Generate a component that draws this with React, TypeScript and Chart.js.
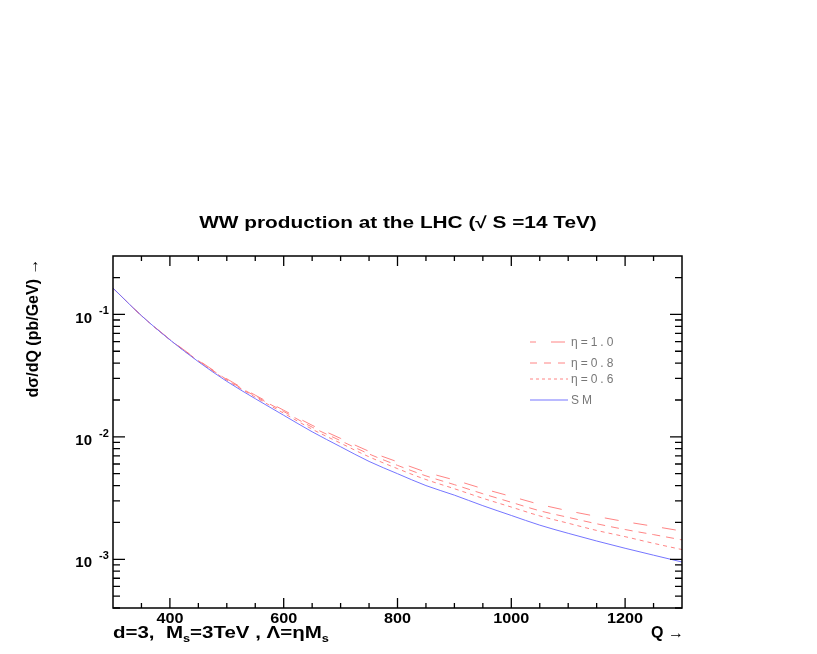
import React, { useEffect, useRef } from "react";
import { Chart, registerables } from "chart.js";

Chart.register(...registerables);

const Q = [300, 350, 400, 450, 500, 550, 600, 650, 700, 750, 800, 850, 900, 950, 1000, 1050, 1100, 1150, 1200, 1250, 1300];
const SM = [0.164, 0.0977, 0.062, 0.0411, 0.0284, 0.0205, 0.015, 0.011, 0.0083, 0.0063, 0.005, 0.004, 0.00334, 0.00274, 0.00228, 0.0019, 0.00163, 0.00141, 0.00123, 0.00108, 0.00095];
const ETA10 = [0.164, 0.0977, 0.0626, 0.0423, 0.0298, 0.0219, 0.0165, 0.01243, 0.00971, 0.00762, 0.00625, 0.00516, 0.00444, 0.00378, 0.00326, 0.00281, 0.00249, 0.00224, 0.00203, 0.00186, 0.0017];
const ETA08 = [0.164, 0.0977, 0.0623, 0.0419, 0.0294, 0.0215, 0.0161, 0.012, 0.0093, 0.00725, 0.00585, 0.0048, 0.00407, 0.00343, 0.00292, 0.00249, 0.0022, 0.00195, 0.00175, 0.00159, 0.00144];
const ETA06 = [0.164, 0.0977, 0.062, 0.0415, 0.029, 0.0211, 0.0156, 0.01155, 0.00888, 0.00687, 0.0055, 0.00448, 0.00377, 0.00315, 0.00267, 0.00226, 0.00197, 0.00172, 0.00153, 0.00135, 0.0012];
const X_LABELS = [400, 600, 800, 1000, 1200];
const Y_DECADES = [-1, -2, -3];
const LEGEND = ["η=1.0", "η=0.8", "η=0.6", "SM"];
const TITLE = "WW production at the LHC (√ S =14 TeV)";

const RED = "rgba(255,110,110,0.85)";
const BLUE = "rgba(110,110,255,0.95)";

const pts = (ys: number[]) => Q.map((x, i) => ({ x, y: ys[i] }));

const decor = {
  id: "decor",
  afterDraw(chart: any) {
    const ctx: CanvasRenderingContext2D = chart.ctx;
    const { left, right, top, bottom } = chart.chartArea;
    const xs = chart.scales.x;
    const ys = chart.scales.y;
    ctx.save();
    // frame
    ctx.strokeStyle = "#000";
    ctx.lineWidth = 1.5;
    ctx.strokeRect(left, top, right - left, bottom - top);
    ctx.lineWidth = 1.3;
    // x ticks
    for (let v = 350; v < 1300; v += 50) {
      const px = xs.getPixelForValue(v);
      const len = v % 200 === 0 ? 10 : 5;
      ctx.beginPath();
      ctx.moveTo(px, bottom);
      ctx.lineTo(px, bottom - len);
      ctx.moveTo(px, top);
      ctx.lineTo(px, top + len);
      ctx.stroke();
    }
    // y ticks
    for (let e = -4; e <= -1; e++) {
      for (let m = 1; m <= 9; m++) {
        const v = m * Math.pow(10, e);
        if (v < ys.min || v > ys.max) continue;
        const py = ys.getPixelForValue(v);
        const len = m === 1 ? 12 : 7;
        ctx.beginPath();
        ctx.moveTo(left, py);
        ctx.lineTo(left + len, py);
        ctx.moveTo(right, py);
        ctx.lineTo(right - len, py);
        ctx.stroke();
      }
    }
    // x labels
    ctx.fillStyle = "#000";
    ctx.font = "bold 15px 'Liberation Sans', Arial, sans-serif";
    ctx.textAlign = "center";
    ctx.textBaseline = "middle";
    X_LABELS.forEach((v) => {
      ctx.save();
      ctx.translate(xs.getPixelForValue(v), bottom + 11);
      ctx.scale(1.08, 1);
      ctx.fillText(String(v), 0, 0);
      ctx.restore();
    });
    // y labels
    Y_DECADES.forEach((e) => {
      const py = ys.getPixelForValue(Math.pow(10, e));
      ctx.font = "bold 15px 'Liberation Sans', Arial, sans-serif";
      ctx.textAlign = "right";
      ctx.textBaseline = "middle";
      ctx.fillText("10", 92, py + 4);
      ctx.font = "bold 11px 'Liberation Sans', Arial, sans-serif";
      ctx.textAlign = "left";
      ctx.fillText(String(e), 99, py - 3);
    });
    // title
    ctx.save();
    ctx.translate(398, 224);
    ctx.scale(1.3, 1);
    ctx.font = "bold 16px 'Liberation Sans', Arial, sans-serif";
    ctx.textAlign = "center";
    ctx.textBaseline = "middle";
    ctx.fillText(TITLE, 0, 0);
    ctx.restore();
    // bottom-left annotation
    ctx.save();
    ctx.translate(left, 638);
    ctx.scale(1.28, 1);
    ctx.textAlign = "left";
    ctx.textBaseline = "alphabetic";
    let x = 0;
    const big = "bold 16px 'Liberation Sans', Arial, sans-serif";
    const small = "bold 10px 'Liberation Sans', Arial, sans-serif";
    const parts: [string, string, number][] = [
      ["d=3,  M", big, 0],
      ["s", small, 4],
      ["=3TeV , Λ=ηM", big, 0],
      ["s", small, 4],
    ];
    parts.forEach(([t, f, dy]) => {
      ctx.font = f;
      ctx.fillText(t, x, dy);
      x += ctx.measureText(t).width;
    });
    ctx.restore();
    ctx.font = "bold 16px 'Liberation Sans', Arial, sans-serif";
    ctx.textAlign = "right";
    ctx.textBaseline = "alphabetic";
    ctx.fillText("Q →", right + 2, 638);
    // y title
    ctx.save();
    ctx.translate(34, 328);
    ctx.rotate(-Math.PI / 2);
    ctx.font = "bold 16px 'Liberation Sans Narrow', 'Liberation Sans', Arial, sans-serif";
    ctx.textAlign = "center";
    ctx.textBaseline = "middle";
    ctx.fillText("dσ/dQ (pb/GeV) →", 0, 0);
    ctx.restore();
    // legend
    const styles: [string, number[], number][] = [
      [RED, [14, 15], 8],
      [RED, [7, 7], 0],
      [RED, [3, 3], 0],
      [BLUE, [], 0],
    ];
    const ly = [342, 363, 379, 400];
    LEGEND.forEach((t, i) => {
      ctx.strokeStyle = styles[i][0];
      ctx.setLineDash(styles[i][1]);
      ctx.lineDashOffset = styles[i][2];
      ctx.lineWidth = 1;
      ctx.beginPath();
      ctx.moveTo(530, ly[i]);
      ctx.lineTo(568, ly[i]);
      ctx.stroke();
      ctx.setLineDash([]);
      ctx.fillStyle = "#777";
      ctx.font = "12px 'Liberation Sans', Arial, sans-serif";
      (ctx as any).letterSpacing = "3px";
      ctx.textAlign = "left";
      ctx.textBaseline = "middle";
      ctx.fillText(t, 571, ly[i] + 1);
      (ctx as any).letterSpacing = "0px";
    });
    ctx.restore();
  },
};

export default function App() {
  const ref = useRef<HTMLCanvasElement | null>(null);
  useEffect(() => {
    document.body.style.margin = "0";
    const chart = new Chart(ref.current!, {
      type: "line",
      data: {
        datasets: [
          { label: "SM", data: pts(SM), borderColor: BLUE, borderWidth: 1, pointRadius: 0, cubicInterpolationMode: "monotone" },
          { label: "η=0.6", data: pts(ETA06), borderColor: RED, borderWidth: 1, borderDash: [4, 4], pointRadius: 0, cubicInterpolationMode: "monotone" },
          { label: "η=0.8", data: pts(ETA08), borderColor: RED, borderWidth: 1, borderDash: [8, 6], pointRadius: 0, cubicInterpolationMode: "monotone" },
          { label: "η=1.0", data: pts(ETA10), borderColor: RED, borderWidth: 1, borderDash: [14, 15], pointRadius: 0, cubicInterpolationMode: "monotone" },
        ],
      },
      options: {
        animation: false,
        responsive: false,
        parsing: false as any,
        layout: { padding: { left: 113, top: 256, right: 135, bottom: 46 } },
        plugins: { legend: { display: false }, tooltip: { enabled: false }, title: { display: false } },
        scales: {
          x: { type: "linear", min: 300, max: 1300, display: false },
          y: { type: "logarithmic", min: 0.0004, max: 0.3, display: false },
        },
      },
      plugins: [decor],
    });
    return () => chart.destroy();
  }, []);
  return (
    <div style={{ position: "absolute", left: 0, top: 0, width: 817, height: 654, background: "#fff" }}>
      <canvas ref={ref} width={817} height={654} style={{ width: 817, height: 654 }} />
    </div>
  );
}
